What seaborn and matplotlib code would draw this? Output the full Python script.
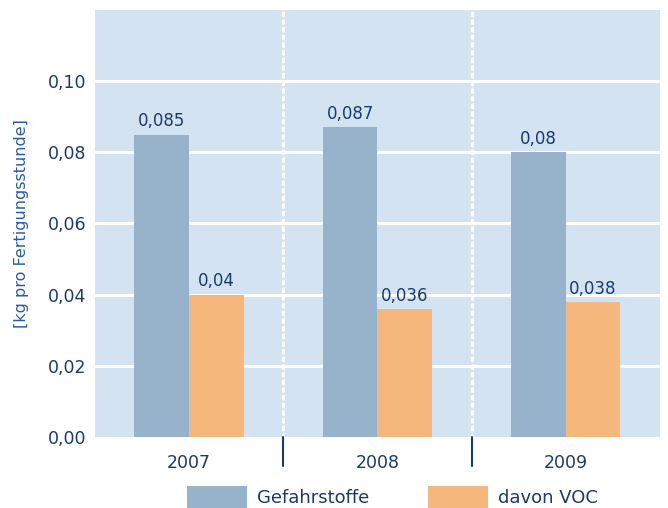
import pandas as pd
import matplotlib
matplotlib.use("Agg")
import matplotlib.pyplot as plt
import matplotlib.transforms as mtransforms
from matplotlib.patches import Patch
import seaborn as sns

# Data
years = ['2007', '2008', '2009']
gefahrstoffe = [0.085, 0.087, 0.08]
voc = [0.04, 0.036, 0.038]
gefahr_labels = ['0,085', '0,087', '0,08']
voc_labels = ['0,04', '0,036', '0,038']
series_names = ['Gefahrstoffe', 'davon VOC']
y_ticks = [0.0, 0.02, 0.04, 0.06, 0.08, 0.10]
y_tick_labels = ['0,00', '0,02', '0,04', '0,06', '0,08', '0,10']

navy = '#1b3a6b'
label_blue = '#2a5d9f'
bg = '#d3e3f1'
colors = ['#97b2cb', '#f6b77c']

df = pd.DataFrame({
    'Jahr': years * 2,
    'Wert': gefahrstoffe + voc,
    'Serie': [series_names[0]] * 3 + [series_names[1]] * 3,
})

sns.set_style('white')
plt.rcParams['font.family'] = ['DejaVu Sans']

fig = plt.figure(figsize=(6.68, 5.08), dpi=100)
ax = fig.add_axes([0.142, 0.1398, 0.846, 0.8405])
ax.set_facecolor(bg)

sns.barplot(data=df, x='Jahr', y='Wert', hue='Serie', palette=colors,
            width=0.58, edgecolor='none', saturation=1, ax=ax,
            legend=False, zorder=3)

# value labels
for cont, labs in zip(ax.containers, [gefahr_labels, voc_labels]):
    ax.bar_label(cont, labels=labs, padding=3, color=navy, fontsize=12)

ax.set_ylim(0, 0.12)
ax.set_xlim(-0.5, 2.5)
ax.set_yticks(y_ticks)
ax.set_yticklabels(y_tick_labels, fontsize=12.5, color=navy)
ax.tick_params(axis='y', length=0, pad=6)
ax.tick_params(axis='x', length=0, labelsize=12.5, labelcolor=navy, pad=12)
ax.set_xlabel('')
ax.set_ylabel('[kg pro Fertigungsstunde]', color=label_blue, fontsize=11.5)
ax.yaxis.set_label_coords(-0.116, 0.5)

# horizontal grid lines
for t in y_ticks[1:]:
    ax.axhline(t, color='white', linewidth=2.2, zorder=1)

# dotted separators and ticks below axis
trans = mtransforms.blended_transform_factory(ax.transData, ax.transAxes)
for xs in [0.5, 1.5]:
    ax.axvline(xs, color='white', linestyle=(0, (0.9, 1.5)), linewidth=2.3,
               zorder=1, dash_capstyle='round')
    ax.plot([xs, xs], [0, -0.068], color=navy, linewidth=1.5,
            transform=trans, clip_on=False)

for s in ax.spines.values():
    s.set_visible(False)

handles = [Patch(facecolor=c, edgecolor='none') for c in colors]
fig.legend(handles, series_names, loc='center left',
           bbox_to_anchor=(187 / 668, 1 - 497 / 508),
           ncol=2, frameon=False, fontsize=13, handlelength=3.3, handleheight=1.55,
           columnspacing=3.3, handletextpad=0.55, borderpad=0, borderaxespad=0,
           labelcolor=navy)

fig.savefig('out.png', dpi=100)
